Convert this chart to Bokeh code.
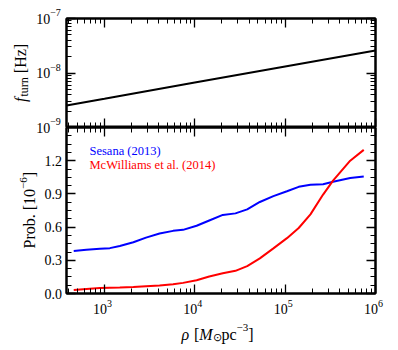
import math
from bokeh.plotting import figure
from bokeh.layouts import column, row
from bokeh.models import (Range1d, LogAxis, LinearAxis, Label, CustomJSTickFormatter,
                          FixedTicker, LogScale, LinearScale)
from bokeh.core.properties import value
from bokeh.embed import file_html
from bokeh.resources import INLINE

# ---------------- data ----------------
rho_turn = [380, 1e3, 1e4, 1e5, 1e6]
f_turn = [2.54e-9, 3.37e-9, 6.67e-9, 1.32e-8, 2.58e-8]

rho = [457, 631, 891, 1148, 1479, 2089, 2884, 4074, 5754, 7413, 10471, 14454,
       20417, 28184, 38019, 52481, 74131, 104713, 141254, 190546, 263027,
       338844, 524807, 741310]
prob_sesana = [0.384, 0.396, 0.405, 0.410, 0.430, 0.463, 0.505, 0.542, 0.566,
               0.575, 0.612, 0.660, 0.710, 0.724, 0.760, 0.827, 0.880, 0.924,
               0.964, 0.982, 0.988, 1.009, 1.043, 1.058]
prob_mcw = [0.032, 0.041, 0.050, 0.052, 0.054, 0.059, 0.066, 0.073, 0.083,
            0.096, 0.120, 0.153, 0.183, 0.205, 0.247, 0.317, 0.408, 0.500,
            0.592, 0.715, 0.894, 1.020, 1.200, 1.298]

series_names = ["Sesana (2013)", "McWilliams et al. (2014)"]
series_colors = ["#0000ff", "#ff0000"]

x_major = [1e3, 1e4, 1e5, 1e6]
x_exps = ["3", "4", "5", "6"]
x_minor = [m * 10 ** e for e in (2, 3, 4, 5) for m in range(2, 10)]
ytop_major = [1e-9, 1e-8, 1e-7]
ytop_exps = ["\u22129", "\u22128", "\u22127"]
ytop_minor = [m * 10 ** e for e in (-9, -8) for m in range(2, 10)]
ybot_major = [0.0, 0.3, 0.6, 0.9, 1.2]
ybot_labels = ["0.0", "0.3", "0.6", "0.9", "1.2"]
ybot_minor = [i * 0.075 for i in range(0, 21)]

FONT = "Liberation Serif"
NB = "\u00a0"

# ---------------- layout geometry (pixels) ----------------
W, H = 398, 350
LW = 62                      # width of the left label strip
FL, FR = 66, 375             # frame left / right
FT, FM, FB = 18, 127, 293    # top of upper frame, shared border, bottom of lower frame
BOT_H = 297 - FM             # height of the lower panel canvas
LX0, LX1 = 2.58, 6.0
PPD = (FR - FL) / (LX1 - LX0)
TOP_DEC = (FM - FT) / 2.0    # pixels per decade, upper panel
BOT_PPU = (FB - FM) / 1.5    # pixels per unit, lower panel

EMPTY = CustomJSTickFormatter(code="return '';")


def style_axis(ax):
    ax.axis_line_width = 2
    ax.axis_line_color = "black"
    ax.major_tick_in = 9
    ax.major_tick_out = 0
    ax.minor_tick_in = 5
    ax.minor_tick_out = 0
    ax.major_tick_line_width = 1.3
    ax.minor_tick_line_width = 1
    ax.major_tick_line_color = "black"
    ax.minor_tick_line_color = "black"
    ax.major_label_text_font_size = "0px"
    ax.major_label_standoff = 0
    ax.formatter = EMPTY
    ax.axis_label = None


def clean(p):
    p.xgrid.visible = False
    p.ygrid.visible = False
    p.background_fill_color = "white"
    p.border_fill_color = "white"
    return p


def strip(width, height, x_range, y_range, x_type="linear"):
    p = figure(width=width, height=height, x_range=x_range, y_range=y_range,
               x_axis_type=x_type, x_axis_location=None, y_axis_location=None,
               output_backend="svg", toolbar_location=None,
               min_border=0, min_border_left=0, min_border_right=0,
               min_border_top=0, min_border_bottom=0)
    p.outline_line_color = None
    return clean(p)


def lab(p, x, y, text, size, style="normal", color="black", angle=0.0):
    p.add_layout(Label(x=x, y=y, x_units="canvas", y_units="canvas", text=text,
                       text_font=FONT, text_font_size=f"{size}px",
                       text_font_style=style, text_color=color, angle=angle,
                       text_align="left", text_baseline="alphabetic"))


x_range = Range1d(10 ** LX0, 10 ** LX1)
xt = FixedTicker(ticks=x_major, minor_ticks=x_minor)

# ---------------- upper panel ----------------
top = figure(width=W - LW, height=FM, x_axis_type="log", y_axis_type="log",
             x_range=x_range, y_range=Range1d(1e-9, 1e-7),
             output_backend="svg", toolbar_location=None,
             min_border_left=FL - LW, min_border_right=W - FR,
             min_border_top=FT, min_border_bottom=0)
clean(top)
top.outline_line_color = "black"
top.outline_line_width = 2
yt = FixedTicker(ticks=ytop_major, minor_ticks=ytop_minor)
top.add_layout(LogAxis(ticker=yt), "right")
top.add_layout(LogAxis(ticker=xt), "above")
for ax in top.below + top.above:
    ax.ticker = xt
    style_axis(ax)
for ax in top.left + top.right:
    ax.ticker = yt
    style_axis(ax)
top.line(rho_turn, f_turn, line_color="black", line_width=2)

# ---------------- lower panel ----------------
bot = figure(width=W - LW, height=BOT_H, x_axis_type="log",
             x_range=x_range, y_range=Range1d(0, 1.5),
             output_backend="svg", toolbar_location=None,
             min_border_left=FL - LW, min_border_right=W - FR,
             min_border_top=0, min_border_bottom=BOT_H - (FB - FM))
clean(bot)
bot.outline_line_color = "black"
bot.outline_line_width = 2
ybt = FixedTicker(ticks=ybot_major, minor_ticks=ybot_minor)
bot.add_layout(LinearAxis(ticker=ybt), "right")
bot.add_layout(LogAxis(ticker=xt), "above")
for ax in bot.below + bot.above:
    ax.ticker = xt
    style_axis(ax)
for ax in bot.left + bot.right:
    ax.ticker = ybt
    style_axis(ax)

bot.line(rho, prob_sesana, line_color=series_colors[0], line_width=2)
bot.line(rho, prob_mcw, line_color=series_colors[1], line_width=2)

for name, col, yb in zip(series_names, series_colors, [23, 37.5]):
    lab(bot, 89 - LW, yb, name, 12.5, color=col)

# ---------------- left strip (full height), sharing both y mappings ----------------
left = strip(LW, H, Range1d(0, LW), Range1d(H, 0))
left.extra_y_ranges = {
    "top": Range1d(10 ** (-9 - (H - FM) / TOP_DEC), 10 ** (-7 + FT / TOP_DEC)),
    "bot": Range1d(-(H - FB) / BOT_PPU, 1.5 + FM / BOT_PPU),
}
left.extra_y_scales = {"top": LogScale(), "bot": LinearScale()}

left.text(x=[49.7] * 3, y=ytop_major, text=["10"] * 3, y_range_name="top",
          text_font=value(FONT), text_font_size=value("14px"),
          text_align="right", text_baseline="middle", text_color="black")
left.text(x=[49.7] * 3, y=ytop_major, text=ytop_exps, y_offset=-6, y_range_name="top",
          text_font=value(FONT), text_font_size=value("10px"),
          text_align="left", text_baseline="middle", text_color="black")
left.text(x=[61.5] * len(ybot_major), y=ybot_major, text=ybot_labels,
          y_range_name="bot",
          text_font=value(FONT), text_font_size=value("14px"),
          text_align="right", text_baseline="middle", text_color="black")

# y label  f_turn [Hz]
cy = 101.5
for txt, fs, st, sh, w in [("f", 16, "italic", 0, 5.5),
                           ("turn", 12, "normal", 3, 19.3),
                           (NB + "[Hz]", 16, "normal", 0, 33.3)]:
    lab(left, 20 + sh, cy, txt, fs, style=st, angle=math.pi / 2)
    cy -= w

# y label  Prob. [10^-6]
cy = 248
for txt, fs, sh, w in [("Prob." + NB + "[10", 16, 0, 59.6), ("\u22126", 11, -6, 11.7),
                       ("]", 16, 0, 5.3)]:
    lab(left, 29 + sh, cy, txt, fs, angle=math.pi / 2)
    cy -= w

# ---------------- strip below: x tick labels and x label ----------------
bstrip = strip(W - LW, H - FM - BOT_H,
               Range1d(10 ** (LX0 - (FL - LW) / PPD), 10 ** (LX1 + (W - FR) / PPD)),
               Range1d(H, FM + BOT_H), x_type="log")
bstrip.text(x=x_major, y=[308] * 4, text=["10"] * 4, x_offset=-11.5,
            text_font=value(FONT), text_font_size=value("14px"),
            text_align="left", text_baseline="alphabetic", text_color="black")
bstrip.text(x=x_major, y=[302.5] * 4, text=x_exps, x_offset=2.5,
            text_font=value(FONT), text_font_size=value("10px"),
            text_align="left", text_baseline="alphabetic", text_color="black")
by = 333.5 - FM - BOT_H
cx = 181 - LW
for txt, fs, st, sh, w in [("\u03c1", 16, "italic", 0, 8.5), (NB + "[", 16, "normal", 0, 9.3),
                           ("M", 16, "italic", 0, 13.3), ("\u2299", 11, "normal", 3, 8.8),
                           ("pc", 16, "normal", 0, 15.1), ("\u22123", 11, "normal", -6.5, 11.7),
                           ("]", 16, "normal", 0, 5.3)]:
    lab(bstrip, cx, by + sh, txt, fs, style=st)
    cx += w

layout = row(left, column(top, bot, row(bstrip, spacing=0), spacing=0), spacing=0)
open("out.html", "w").write(file_html(layout, INLINE))
